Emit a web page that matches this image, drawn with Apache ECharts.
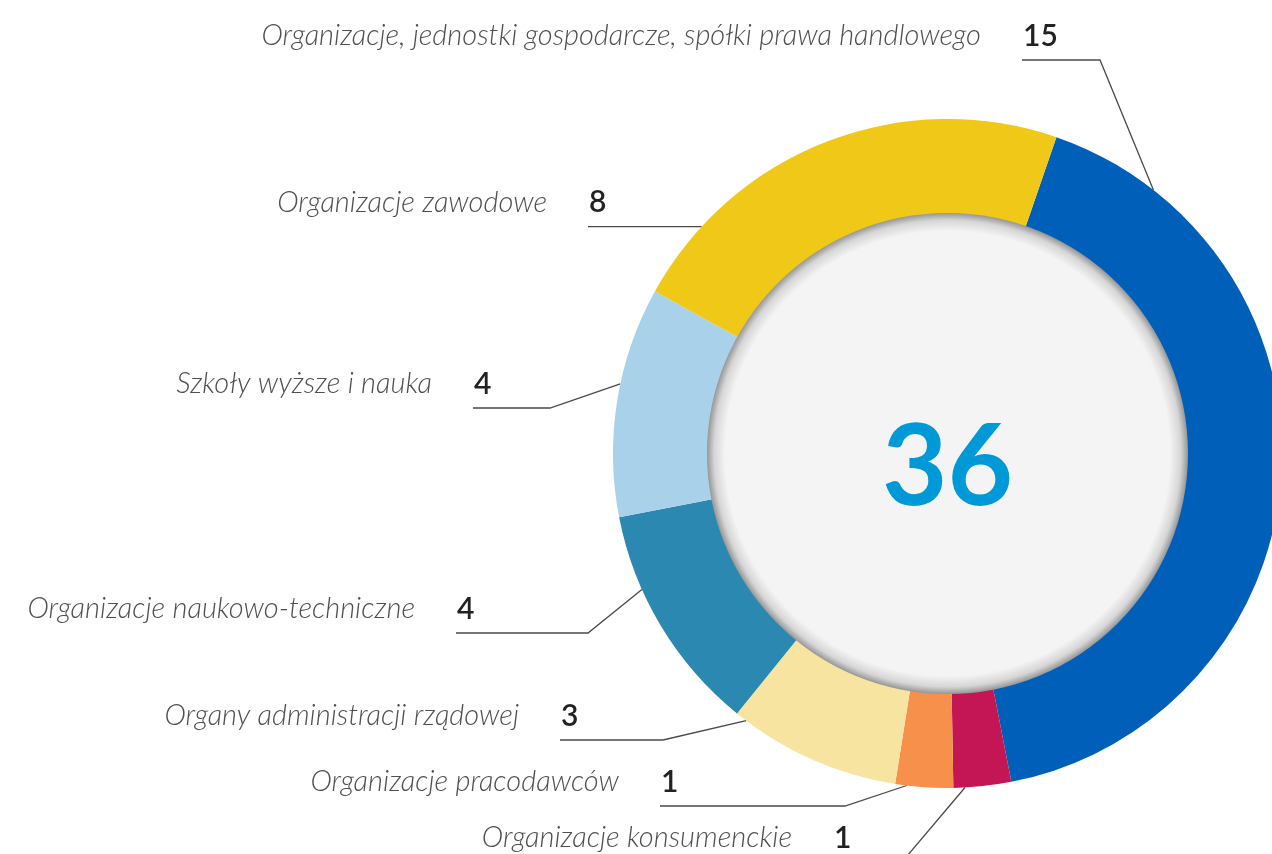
<!DOCTYPE html>
<html>
<head>
<meta charset="utf-8">
<script src="https://cdn.jsdelivr.net/npm/echarts@6/dist/echarts.min.js"></script>
<style>
  html, body { margin: 0; padding: 0; background: #ffffff; }
  #chart { width: 1272px; height: 854px; }
</style>
</head>
<body>
<div id="chart"></div>
<script>
// ---- data ----
const categories = [
  'Organizacje, jednostki gospodarcze, spółki prawa handlowego',
  'Organizacje konsumenckie',
  'Organizacje pracodawców',
  'Organy administracji rządowej',
  'Organizacje naukowo-techniczne',
  'Szkoły wyższe i nauka',
  'Organizacje zawodowe'
];
const values = [15, 1, 1, 3, 4, 4, 8];
const colors = ['#0060b9', '#c41655', '#f6904a', '#f7e4a0', '#2b88b0', '#a9d1ea', '#f0c817'];

// ---- layout config (not data) ----
const CX = 947.5, CY = 453.5, R_OUT = 334.5, R_IN = 220, R_DISK = 240.5;
const START_CW = 19; // degrees clockwise from 12 o'clock where first slice starts
// label guide: preferred anchor angle on ring (cw from top), knee point, line end x
const guides = [
  { angle: 38,    knee: [1100, 60],  endX: 1022 },
  { angle: 184,   knee: [902, 862],  endX: 833 },
  { angle: 194,   knee: [845, 806],  endX: 660 },
  { angle: 220,   knee: [663, 740],  endX: 560 },
  { angle: 246,   knee: [588, 633],  endX: 456 },
  { angle: 282,   knee: [550, 408],  endX: 473 },
  { angle: 312.7, knee: null,        endX: 588 }
];
const NAME_FONT = 'Lato';
const NUM_FONT_SIZE = 30, NUM_FONT_WEIGHT = 600;

const total = values.reduce((a, b) => a + b, 0);
// slice angular ranges (cw from top) derived from values
const sliceRanges = [];
{
  let acc = START_CW;
  values.forEach(v => {
    const span = v / total * 360;
    sliceRanges.push([acc, acc + span]);
    acc += span;
  });
}
const measureCtx = document.createElement('canvas').getContext('2d');
function numWidth(txt) {
  measureCtx.font = NUM_FONT_WEIGHT + ' ' + NUM_FONT_SIZE + 'px ' + NAME_FONT;
  return measureCtx.measureText(txt).width;
}

const chart = echarts.init(document.getElementById('chart'), null, { renderer: 'canvas' });

const option = {
  backgroundColor: '#ffffff',
  animation: false,
  series: [
    {
      type: 'pie',
      center: [CX, CY],
      radius: [R_IN, R_OUT],
      startAngle: 90 - START_CW,
      clockwise: true,
      silent: true,
      avoidLabelOverlap: false,
      emphasis: { disabled: true },
      data: categories.map((name, i) => ({
        name: name,
        value: values[i],
        itemStyle: { color: colors[i] }
      })),
      label: {
        show: true,
        position: 'outside',
        width: 1000,
        overflow: 'none',
        align: 'right',
        formatter: p => '{n|' + p.name + '}{v|' + p.value + '}',
        rich: {
          n: {
            fontFamily: NAME_FONT,
            fontStyle: 'italic',
            fontWeight: 300,
            fontSize: 29,
            color: '#4f4f4f',
            padding: [0, 42, 0, 0],
            align: 'right'
          },
          v: {
            fontFamily: NAME_FONT,
            fontWeight: NUM_FONT_WEIGHT,
            fontSize: NUM_FONT_SIZE,
            color: '#222222',
            align: 'right'
          }
        }
      },
      labelLine: {
        show: true,
        length: 10,
        length2: 10,
        smooth: false,
        lineStyle: { color: '#4a4a4a', width: 1.3 }
      },
      labelLayout: function (params) {
        const i = params.dataIndex;
        const g = guides[i];
        const rng = sliceRanges[i];
        let a = Math.min(Math.max(g.angle, rng[0] + 2), rng[1] - 2);
        const rad = a * Math.PI / 180;
        const ax = CX + R_OUT * Math.sin(rad);
        const ay = CY - R_OUT * Math.cos(rad);
        let pts;
        let lineY;
        if (g.knee) {
          lineY = g.knee[1];
          pts = [[ax, ay], [g.knee[0], g.knee[1]], [g.endX, g.knee[1]]];
        } else {
          lineY = ay;
          pts = [[ax, ay], [(ax + g.endX) / 2, ay], [g.endX, ay]];
        }
        const w = numWidth(String(values[i]));
        return {
          x: g.endX + w + 1,
          y: lineY - 24,
          align: 'right',
          verticalAlign: 'middle',
          labelLinePoints: pts
        };
      },
      z: 2
    },
    {
      type: 'pie',
      center: [CX, CY],
      radius: [0, R_DISK],
      silent: true,
      emphasis: { disabled: true },
      labelLine: { show: false },
      data: [{
        value: total,
        name: 'total',
        itemStyle: {
          color: {
            type: 'radial', x: 0.5, y: 0.5, r: 0.5,
            colorStops: [
              { offset: 0, color: '#f4f4f4' },
              { offset: 0.925, color: '#f4f4f4' },
              { offset: 0.97, color: '#d6d6d6' },
              { offset: 1, color: '#969696' }
            ]
          }
        }
      }],
      label: {
        show: true,
        position: 'center',
        formatter: () => String(total),
        fontFamily: NAME_FONT,
        fontWeight: 'bold',
        fontSize: 113,
        color: '#0099d8'
      },
      labelLayout: function () {
        return { dy: 15 };
      },
      z: 3
    }
  ]
};
chart.setOption(option);
</script>
</body>
</html>
